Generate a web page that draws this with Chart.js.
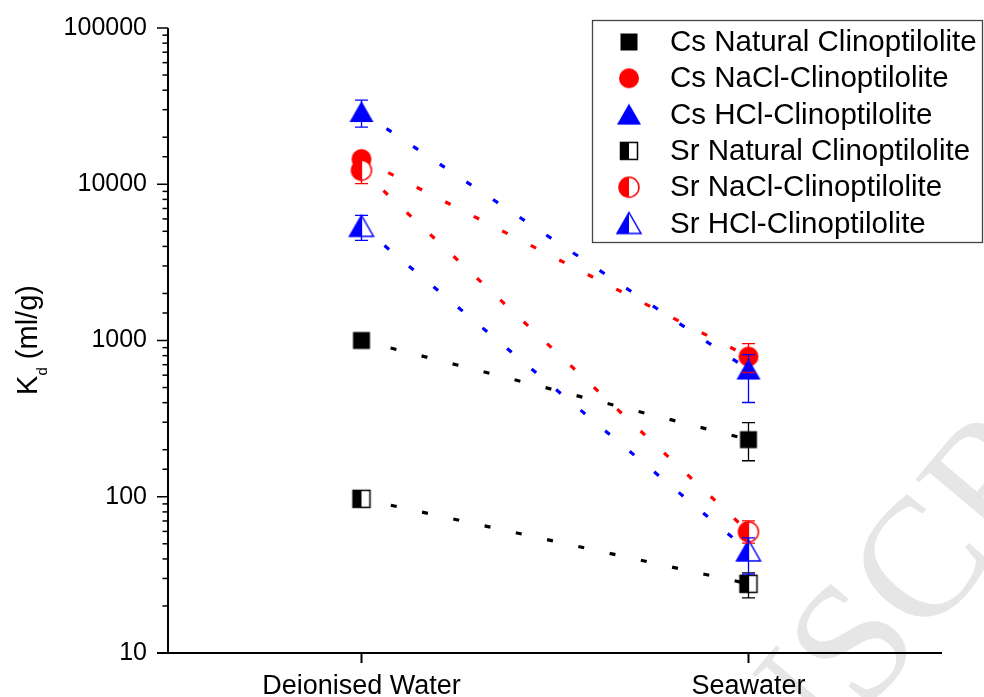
<!DOCTYPE html>
<html>
<head>
<meta charset="utf-8">
<script src="https://cdn.jsdelivr.net/npm/chart.js@4.4.1/dist/chart.umd.min.js"></script>
<style>
  html, body { margin: 0; padding: 0; background: #fff; }
  #wrap { width: 984px; height: 697px; position: relative; }
</style>
</head>
<body>
<div id="wrap"><canvas id="kdChart"></canvas></div>
<script>
// categories on the x axis
const categories = ['Deionised Water', 'Seawater'];

// series names
const seriesLabels = [
  'Cs Natural Clinoptilolite',
  'Cs NaCl-Clinoptilolite',
  'Cs HCl-Clinoptilolite',
  'Sr Natural Clinoptilolite',
  'Sr NaCl-Clinoptilolite',
  'Sr HCl-Clinoptilolite'
];

// Kd values (ml/g), one per category
const csNatural = [1000, 232];
const csNaCl = [14500, 789];
const csHCl = [29000, 652];
const srNatural = [97, 27.7];
const srNaCl = [12300, 59.7];
const srHCl = [5380, 45];

// error bar limits (lower / upper)
const csNaturalLo = [1000, 170];
const csNaturalHi = [1000, 298];
const csNaClLo = [14500, 624];
const csNaClHi = [14500, 955];
const csHClLo = [23200, 401];
const csHClHi = [34500, 813];
const srNaturalLo = [97, 22.5];
const srNaturalHi = [97, 32.6];
const srNaClLo = [10100, 50.5];
const srNaClHi = [14800, 70];
const srHClLo = [4375, 32];
const srHClHi = [6330, 54.6];

// labelled y ticks
const yTickLabels = [10, 100, 1000, 10000, 100000];

const seriesValues = [csNatural, csNaCl, csHCl, srNatural, srNaCl, srHCl];
const seriesLo = [csNaturalLo, csNaClLo, csHClLo, srNaturalLo, srNaClLo, srHClLo];
const seriesHi = [csNaturalHi, csNaClHi, csHClHi, srNaturalHi, srNaClHi, srHClHi];
const seriesColors = ['#000000', '#ff0000', '#0000ff', '#000000', '#ff0000', '#0000ff'];
const seriesShapes = ['square', 'circle', 'triangle', 'square', 'circle', 'triangle'];
const seriesHalf = [false, false, false, true, true, true];

// build a marker image for a series (full or left-half filled)
function makeMarker(shape, color, half) {
  const c = document.createElement('canvas');
  c.width = 28; c.height = 28;
  const g = c.getContext('2d');
  const cx = 14, cy = 14;
  function path() {
    g.beginPath();
    if (shape === 'square') {
      g.rect(cx - 8.5, cy - 8.5, 17, 17);
    } else if (shape === 'circle') {
      g.arc(cx, cy, 10, 0, Math.PI * 2);
    } else {
      g.moveTo(cx, cy - 11);
      g.lineTo(cx + 12, cy + 10);
      g.lineTo(cx - 12, cy + 10);
      g.closePath();
    }
  }
  if (!half) {
    path();
    g.fillStyle = color;
    g.fill();
  } else {
    path();
    g.fillStyle = '#fff';
    g.fill();
    g.save();
    g.beginPath();
    g.rect(0, 0, cx, 28);
    g.clip();
    path();
    g.fillStyle = color;
    g.fill();
    g.restore();
    path();
    g.strokeStyle = color;
    g.lineWidth = 1.5;
    g.stroke();
  }
  return c;
}

const markers = seriesLabels.map((_, i) => makeMarker(seriesShapes[i], seriesColors[i], seriesHalf[i]));

// watermark underneath everything
const watermarkPlugin = {
  id: 'watermark',
  beforeDraw(chart) {
    const ctx = chart.ctx;
    ctx.save();
    ctx.font = '170px "Liberation Serif"';
    ctx.fillStyle = '#e6e6e6';
    ctx.translate(530, 1112);
    ctx.rotate(-50 * Math.PI / 180);
    const pre = ctx.measureText('ACCEPTED ').width;
    ctx.textBaseline = 'alphabetic';
    ctx.fillText('ACCEPTED MANUSCRIPT', -pre, 0);
    ctx.restore();
  }
};

// axis lines, tick marks and the y title
const axesPlugin = {
  id: 'axes',
  beforeDatasetsDraw(chart) {
    const ctx = chart.ctx;
    const a = chart.chartArea;
    const ys = chart.scales.y;
    const xs = chart.scales.x;
    ctx.save();
    ctx.strokeStyle = '#000';
    ctx.lineWidth = 2;
    ctx.beginPath();
    ctx.moveTo(a.left, a.top);
    ctx.lineTo(a.left, a.bottom);
    ctx.moveTo(a.left - 11, a.bottom);
    ctx.lineTo(a.right, a.bottom);
    ctx.stroke();

    ctx.lineWidth = 1.5;
    ys.ticks.forEach(t => {
      const py = ys.getPixelForValue(t.value);
      const major = yTickLabels.includes(t.value);
      ctx.beginPath();
      ctx.moveTo(a.left, py);
      ctx.lineTo(a.left - (major ? 11 : 5.5), py);
      ctx.stroke();
    });
    ctx.lineWidth = 2;
    categories.forEach((c, i) => {
      const px = xs.getPixelForValue(i);
      ctx.beginPath();
      ctx.moveTo(px, a.bottom);
      ctx.lineTo(px, a.bottom + 10);
      ctx.stroke();
    });

    // y title: K with subscript d
    ctx.translate(37, 340);
    ctx.rotate(-Math.PI / 2);
    ctx.fillStyle = '#000';
    ctx.textBaseline = 'alphabetic';
    const f1 = '29px "Liberation Sans"', f2 = '15px "Liberation Sans"';
    ctx.font = f1;
    const wK = ctx.measureText('K').width;
    const wRest = ctx.measureText(' (ml/g)').width;
    ctx.font = f2;
    const wd = ctx.measureText('d').width;
    const total = wK + wd + wRest;
    let x0 = -total / 2;
    ctx.font = f1;
    ctx.fillText('K', x0, 0);
    ctx.font = f2;
    ctx.fillText('d', x0 + wK, 10);
    ctx.font = f1;
    ctx.fillText(' (ml/g)', x0 + wK + wd, 0);
    ctx.restore();
  }
};

// error bars, drawn over the markers
const errorBarPlugin = {
  id: 'errorBars',
  afterDatasetsDraw(chart) {
    const ctx = chart.ctx;
    const xs = chart.scales.x, ys = chart.scales.y;
    ctx.save();
    ctx.lineWidth = 1.3;
    seriesValues.forEach((vals, i) => {
      ctx.strokeStyle = seriesColors[i];
      vals.forEach((v, j) => {
        const lo = seriesLo[i][j], hi = seriesHi[i][j];
        if (lo === hi) return;
        const px = xs.getPixelForValue(j);
        const yl = ys.getPixelForValue(lo), yh = ys.getPixelForValue(hi);
        ctx.beginPath();
        ctx.moveTo(px, yl); ctx.lineTo(px, yh);
        ctx.moveTo(px - 6.5, yl); ctx.lineTo(px + 6.5, yl);
        ctx.moveTo(px - 6.5, yh); ctx.lineTo(px + 6.5, yh);
        ctx.stroke();
      });
    });
    ctx.restore();
  }
};

// boxed legend in the top right corner
const legendPlugin = {
  id: 'boxLegend',
  afterDraw(chart) {
    const ctx = chart.ctx;
    ctx.save();
    ctx.strokeStyle = '#444';
    ctx.lineWidth = 1.3;
    ctx.strokeRect(592.5, 20.5, 390, 222);
    ctx.font = '29.5px "Liberation Sans"';
    ctx.fillStyle = '#000';
    ctx.textBaseline = 'middle';
    seriesLabels.forEach((lab, i) => {
      const ry = 42 + i * 36.3;
      const m = markers[i];
      ctx.drawImage(m, 629 - m.width / 2, ry - m.height / 2);
      ctx.fillText(lab, 670, ry + 1);
    });
    ctx.restore();
  }
};

const datasets = seriesLabels.map((lab, i) => ({
  label: lab,
  data: seriesValues[i],
  borderColor: seriesColors[i],
  backgroundColor: seriesColors[i],
  borderWidth: 3.2,
  borderDash: [6, 26],
  borderDashOffset: 2,
  borderCapStyle: 'butt',
  pointStyle: markers[i],
  pointRadius: 10,
  pointHoverRadius: 10,
  tension: 0,
  order: seriesLabels.length - i
}));

new Chart(document.getElementById('kdChart').getContext('2d'), {
  type: 'line',
  data: { labels: categories, datasets: datasets },
  options: {
    responsive: true,
    maintainAspectRatio: false,
    animation: false,
    layout: { padding: { left: 0, top: 23, right: 42, bottom: 0 } },
    plugins: {
      legend: { display: false },
      tooltip: { enabled: false }
    },
    scales: {
      x: {
        type: 'category',
        offset: true,
        grid: { display: false },
        border: { display: false },
        ticks: {
          color: '#000',
          font: { family: 'Liberation Sans', size: 27 },
          padding: 9,
          maxRotation: 0
        },
        afterFit(scale) { scale.height = 44; }
      },
      y: {
        type: 'logarithmic',
        min: 10,
        max: 100000,
        grid: { display: false },
        border: { display: false },
        ticks: {
          color: '#000',
          autoSkip: false,
          font: { family: 'Liberation Sans', size: 25 },
          padding: 13,
          callback: (value) => yTickLabels.includes(value) ? String(value) : ''
        },
        afterFit(scale) { scale.width = 168; }
      }
    }
  },
  plugins: [watermarkPlugin, axesPlugin, errorBarPlugin, legendPlugin]
});
</script>
</body>
</html>
